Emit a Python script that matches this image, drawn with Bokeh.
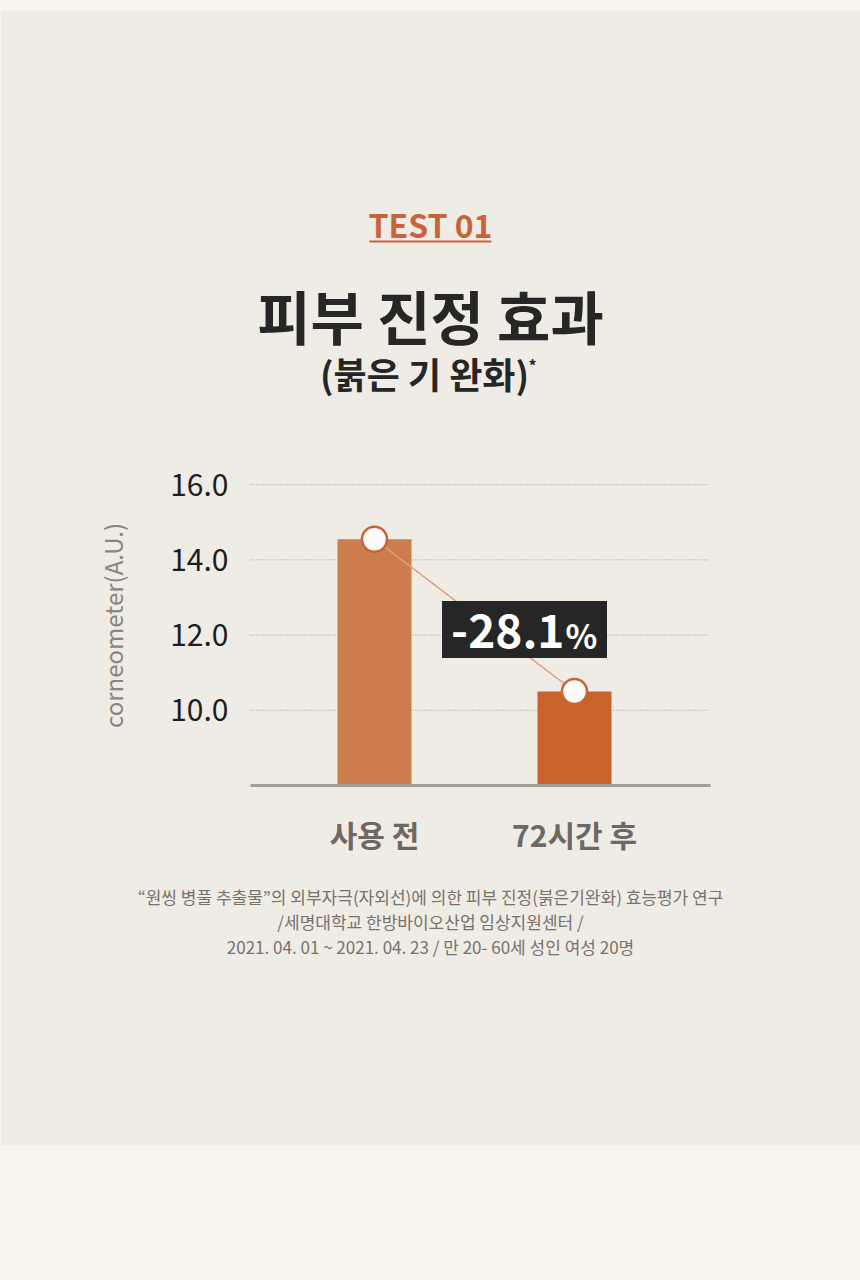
import math
from bokeh.plotting import figure
from bokeh.models import Range1d
from bokeh.embed import file_html
from bokeh.resources import INLINE
from bokeh.core.properties import value

# ---- data ----
categories = ["사용 전", "72시간 후"]
values = [14.55, 10.5]
bar_colors = ["#cd7c4e", "#c9622b"]
y_base = 8.0
y_ticks = [10, 12, 14, 16]
y_tick_labels = ["10.0", "12.0", "14.0", "16.0"]
change_text = "-28.1"
change_unit = "%"
y_axis_title = "corneometer(A.U.)"
kicker = "TEST 01"
title_main = "피부 진정 효과"
title_sub = "(붉은 기 완화)"
footnote_lines = [
    "“원씽 병풀 추출물”의 외부자극(자외선)에 의한 피부 진정(붉은기완화) 효능평가 연구",
    "/세명대학교 한방바이오산업 임상지원센터 /",
    "2021. 04. 01 ~ 2021. 04. 23 / 만 20- 60세 성인 여성 20명",
]

FONT = value("Noto Sans CJK KR")
BG = "#efece5"
BAND = "#f8f5ee"
ORANGE = "#c8643a"
W, H = 860, 1280

# data scales: index 0 -> px 374, index 1 -> px 574 ; value 8 -> py 785, 37.6 px / unit
PX_PER_X = 200.0
PX_PER_Y = 37.6
x0_px, base_py = 374.0, 785.0
x_range = Range1d(-x0_px / PX_PER_X, (W - x0_px) / PX_PER_X)
y_range = Range1d(y_base - (H - base_py) / PX_PER_Y, y_base + base_py / PX_PER_Y)

p = figure(width=W, height=H, x_range=x_range, y_range=y_range,
           x_axis_type=None, y_axis_type=None, toolbar_location=None,
           output_backend="svg", min_border=0)
p.extra_x_ranges = {"px": Range1d(0, W)}
p.extra_y_ranges = {"py": Range1d(H, 0)}
p.grid.visible = False
p.outline_line_color = None
p.background_fill_color = BG
p.border_fill_color = BG

PXY = dict(x_range_name="px", y_range_name="py")

# background bands
p.quad(left=[0], right=[W], top=[0], bottom=[10], fill_color=BAND, line_color=None, **PXY)
p.quad(left=[0], right=[W], top=[1145], bottom=[H], fill_color=BAND, line_color=None, **PXY)

# ---- header ----
p.text(x=[430], y=[223], text=[kicker], text_font=FONT, text_font_size="32px",
       text_font_style="bold", text_color=ORANGE, text_align="center",
       text_baseline="middle", **PXY)
p.segment(x0=[369], x1=[491], y0=[241], y1=[241], line_color=ORANGE, line_width=2, **PXY)
p.text(x=[430], y=[314], text=[title_main], text_font=FONT, text_font_size="58px",
       text_font_style="bold", text_color="#262626", text_align="center",
       text_baseline="middle", **PXY)
p.text(x=[424], y=[372], text=[title_sub], text_font=FONT, text_font_size="36px",
       text_font_style="bold", text_color="#262626", text_align="center",
       text_baseline="middle", **PXY)
p.text(x=[528], y=[364], text=["*"], text_font=FONT, text_font_size="16px",
       text_font_style="bold", text_color="#262626", text_align="left",
       text_baseline="middle", **PXY)

# ---- chart: grid, ticks, axis title ----
n = len(y_ticks)
p.segment(x0=[250] * n, x1=[708] * n, y0=y_ticks, y1=y_ticks, line_color="#aaa59e",
          line_dash="1 2", line_width=1.3, x_range_name="px")
p.text(x=[228] * n, y=y_ticks, text=y_tick_labels, text_font=FONT, text_font_size="30px",
       text_color="#1e1e1e", text_align="right", text_baseline="middle", x_range_name="px")
p.text(x=[112], y=[625], text=[y_axis_title], angle=math.pi / 2, text_font=FONT,
       text_font_size="24px", text_color="#8a857f", text_align="center",
       text_baseline="middle", **PXY)

# bars
idx = list(range(len(categories)))
p.vbar(x=idx, top=values, bottom=y_base, width=0.37, fill_color=bar_colors, line_color=None)
# baseline
p.segment(x0=[250], x1=[710], y0=[y_base], y1=[y_base], line_color="#a39d95", line_width=3,
          x_range_name="px")
# connector + markers
p.line(x=idx, y=values, line_color="#d9a182", line_width=1.5)
p.scatter(x=idx, y=values, size=25, fill_color="#fdfcf9", line_color=ORANGE, line_width=2.5)

# change label
label_x = 0.75
label_y = 12.15
p.rect(x=[label_x], y=[label_y], width=165, height=57, width_units="screen",
       height_units="screen", fill_color="#262626", line_color=None)
p.text(x=[label_x], y=[label_y], text=[change_text], x_offset=40, y_offset=2,
       text_font=FONT, text_font_size="46px", text_font_style="bold", text_color="white",
       text_align="right", text_baseline="middle")
p.text(x=[label_x], y=[label_y], text=[change_unit], x_offset=41, y_offset=6,
       text_font=FONT, text_font_size="33px", text_font_style="bold", text_color="white",
       text_align="left", text_baseline="middle")

# category labels
p.text(x=idx, y=[833] * len(idx), text=categories, text_font=FONT, text_font_size="30px",
       text_font_style="bold", text_color="#6d6863", text_align="center",
       text_baseline="middle", y_range_name="py")

# ---- footnote ----
p.text(x=[430] * 3, y=[896, 921, 946], text=footnote_lines, text_font=FONT,
       text_font_size="17px", text_color="#77726c", text_align="center",
       text_baseline="middle", **PXY)

open("out.html", "w").write(file_html(p, INLINE))
